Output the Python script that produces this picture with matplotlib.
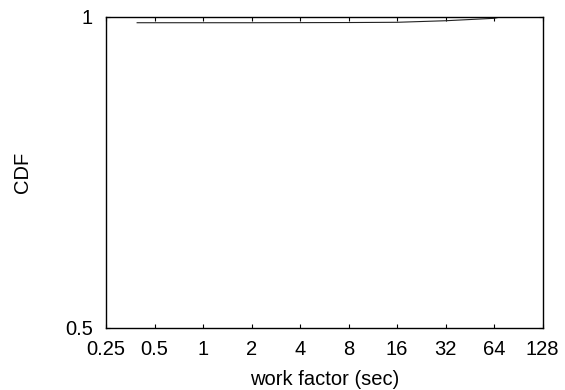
import matplotlib
matplotlib.use("Agg")
import matplotlib.pyplot as plt
from matplotlib.ticker import FixedLocator, FixedFormatter

# CDF of work factor
work_factor = [0.39, 2, 8, 16, 32, 64, 72]
cdf = [0.990, 0.990, 0.9903, 0.9907, 0.9932, 0.9971, 1.0]

x_ticks = [0.25, 0.5, 1, 2, 4, 8, 16, 32, 64, 128]
x_labels = ['0.25', '0.5', '1', '2', '4', '8', '16', '32', '64', '128']
y_ticks = [0.5, 1]
y_labels = ['0.5', '1']

plt.rcParams['font.family'] = ['Liberation Sans', 'DejaVu Sans']
plt.rcParams['font.size'] = 14.5

fig = plt.figure(figsize=(5.65, 3.9), dpi=100)
ax = fig.add_axes([106 / 565, 1 - 327.7 / 390, (542.7 - 106) / 565, (327.7 - 16.5) / 390])

ax.plot(work_factor, cdf, color='#222222', linewidth=0.8)

ax.set_xscale('log', base=2)
ax.set_xlim(0.25, 128)
ax.set_ylim(0.5, 1)
ax.xaxis.set_major_locator(FixedLocator(x_ticks))
ax.xaxis.set_major_formatter(FixedFormatter(x_labels))
ax.xaxis.set_minor_locator(FixedLocator([]))
ax.yaxis.set_major_locator(FixedLocator(y_ticks))
ax.yaxis.set_major_formatter(FixedFormatter(y_labels))

ax.tick_params(direction='in', length=3, width=0.8, top=True, right=True, pad=8.5)
ax.tick_params(axis='y', pad=9.5)
for s in ax.spines.values():
    s.set_linewidth(1.0)

ax.set_xlabel('work factor (sec)', labelpad=8)
ax.set_ylabel('CDF', labelpad=24)

fig.savefig('out.png', dpi=100)
